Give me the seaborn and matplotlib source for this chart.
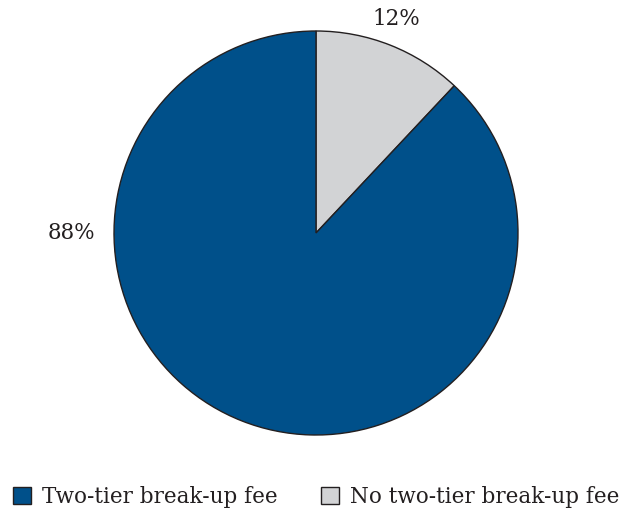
import matplotlib
matplotlib.use("Agg")
import matplotlib.pyplot as plt
import seaborn as sns
from matplotlib.patches import Patch

categories = ["Two-tier break-up fee", "No two-tier break-up fee"]
shares = [88, 12]
pct_labels = ["88%", "12%"]

sns.set_theme(style="white")
plt.rcParams["font.family"] = ["DejaVu Serif", "Liberation Serif"]

colors = ["#00508a", "#d2d3d5"]
edge = "#231f20"
text_color = "#231f20"

fig = plt.figure(figsize=(6.23, 5.15), dpi=100)
ax = fig.add_axes([114 / 623, 80 / 515, 404 / 623, 404 / 515])

# Slices drawn clockwise from 12 o'clock, smaller share first
order = [1, 0]
wedges, _ = ax.pie(
    [shares[i] for i in order],
    colors=[colors[i] for i in order],
    startangle=90,
    counterclock=False,
    radius=1.0,
    wedgeprops=dict(edgecolor=edge, linewidth=1.0),
)
ax.set_xlim(-1, 1)
ax.set_ylim(-1, 1)
ax.set_aspect("equal")
ax.axis("off")

# Percentage labels outside the pie
ax.text(-1.21, 0.0, pct_labels[0], ha="center", va="center",
        fontsize=15.5, color=text_color)
ax.text(0.40, 1.06, pct_labels[1], ha="center", va="center",
        fontsize=15.5, color=text_color)

handles = [Patch(facecolor=colors[i], edgecolor=edge, linewidth=1.0,
                 label=categories[i]) for i in range(len(categories))]
fig.legend(handles=handles, loc="center", bbox_to_anchor=(0.507, 1 - 497 / 515),
           ncol=2, frameon=False, fontsize=15.5, handlelength=0.85,
           handleheight=0.85, handletextpad=0.5, columnspacing=2.0,
           labelcolor=text_color)

fig.savefig("out.png", dpi=100)
